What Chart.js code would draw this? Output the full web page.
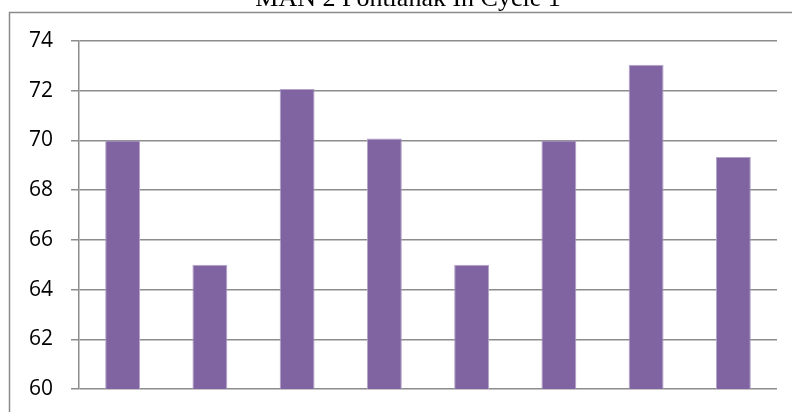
<!DOCTYPE html>
<html>
<head>
<meta charset="utf-8">
<script src="https://cdn.jsdelivr.net/npm/chart.js@4/dist/chart.umd.min.js"></script>
<style>
  html, body { margin: 0; padding: 0; background: #fff; }
  #wrap { width: 792px; height: 412px; position: relative; }
</style>
</head>
<body>
<div id="wrap"><canvas id="cycleChart"></canvas></div>
<script>
const chartTitle = 'MAN 2 Pontianak In Cycle 1';
const students = ['1', '2', '3', '4', '5', '6', '7', '8'];
const scores = [70, 65, 72.07, 70.08, 65, 70, 73.04, 69.33];
const yMin = 60, yMax = 74, yStep = 2;

// frame + cut-off title, drawn like the source picture
const framePlugin = {
    id: 'frame',
    afterDraw(chart) {
        const ctx = chart.ctx;
        ctx.save();
        ctx.strokeStyle = '#8a8a8a';
        ctx.lineWidth = 1.5;
        ctx.strokeRect(9.5, 12.5, 900, 500);
        ctx.fillStyle = '#000';
        ctx.font = '26px "Liberation Serif", "Times New Roman", serif';
        ctx.textAlign = 'center';
        ctx.textBaseline = 'alphabetic';
        ctx.fillText(chartTitle, 408, 6);
        ctx.restore();
    }
};

const ctx = document.getElementById('cycleChart').getContext('2d');
const cycleChart = new Chart(ctx, {
    type: 'bar',
    data: {
        labels: students,
        datasets: [{
            label: 'Score',
            data: scores,
            backgroundColor: '#8064a2',
            borderColor: '#b3a2c9',
            borderWidth: 1,
            barPercentage: 0.4,
            categoryPercentage: 1.0
        }]
    },
    options: {
        responsive: true,
        maintainAspectRatio: false,
        animation: false,
        layout: { padding: { left: 0, top: 41, right: 15, bottom: 23 } },
        plugins: {
            legend: { display: false },
            tooltip: { enabled: false }
        },
        scales: {
            x: {
                display: false
            },
            y: {
                min: yMin,
                max: yMax,
                afterFit(scale) {
                    scale.width = 79;
                    scale.paddingTop = 0;
                    scale.paddingBottom = 0;
                },
                ticks: {
                    stepSize: yStep,
                    color: '#000',
                    padding: 18,
                    font: { family: 'Open Sans', size: 21 }
                },
                grid: {
                    color: '#8c8c8c',
                    lineWidth: 1.5,
                    tickLength: 8
                },
                border: { color: '#8c8c8c', width: 1.5 }
            }
        }
    },
    plugins: [framePlugin]
});
</script>
</body>
</html>
